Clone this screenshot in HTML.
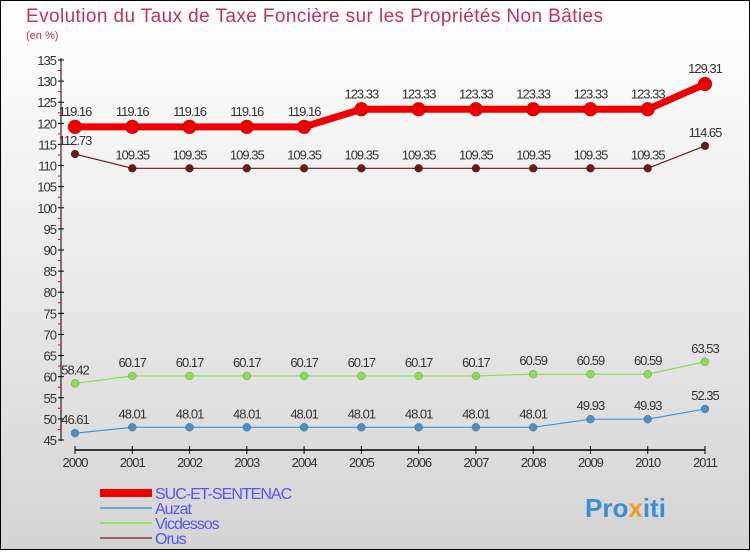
<!DOCTYPE html>
<html><head><meta charset="utf-8"><style>
body{margin:0}
#c{width:750px;height:550px;position:relative;font-family:"Liberation Sans",sans-serif;}
</style></head><body>
<div id="c">
<svg id="s" width="750" height="550" xmlns="http://www.w3.org/2000/svg">
<defs><linearGradient id="bg" x1="0" y1="0" x2="0" y2="1"><stop offset="0" stop-color="#ffffff"/><stop offset="1" stop-color="#d4d4d4"/></linearGradient></defs>
<rect x="0.5" y="0.5" width="749" height="549" fill="url(#bg)" stroke="#000"/>
<text x="26" y="22" font-size="19" fill="#c0306a" textLength="577">Evolution du Taux de Taxe Foncière sur les Propriétés Non Bâties</text>
<text x="26" y="39" font-size="11" fill="#c0306a">(en %)</text>
<g id="g"></g>
<text x="585" y="517" font-size="26" font-weight="bold" fill="#3a8fd0">Pro<tspan fill="#f0a020">x</tspan>iti</text>
</svg>
</div>
<script>
const years=["2000","2001","2002","2003","2004","2005","2006","2007","2008","2009","2010","2011"];
const suc=[119.16,119.16,119.16,119.16,119.16,123.33,123.33,123.33,123.33,123.33,123.33,129.31];
const auzat=[46.61,48.01,48.01,48.01,48.01,48.01,48.01,48.01,48.01,49.93,49.93,52.35];
const vicdessos=[58.42,60.17,60.17,60.17,60.17,60.17,60.17,60.17,60.59,60.59,60.59,63.53];
const orus=[112.73,109.35,109.35,109.35,109.35,109.35,109.35,109.35,109.35,109.35,109.35,114.65];
const yTicks=[45,50,55,60,65,70,75,80,85,90,95,100,105,110,115,120,125,130,135];
const names=["SUC-ET-SENTENAC","Auzat","Vicdessos","Orus"];
const NS="http://www.w3.org/2000/svg";
const g=document.getElementById('g');
const X=i=>75+i*(630/11);
const Y=v=>440-(v-45)*(380/90);
function el(t,a,p){const e=document.createElementNS(NS,t);for(const k in a)e.setAttribute(k,a[k]);(p||g).appendChild(e);return e;}
let e=el('line',{x1:61,y1:58,x2:61,y2:441,stroke:'#000'});

e=el('line',{x1:75,y1:450,x2:705,y2:450,stroke:'#000','stroke-width':1.5});

yTicks.forEach((v,i)=>{
 const y=Y(v);
 el('line',{x1:58,y1:y,x2:64,y2:y,stroke:'#000'});
 if(i<yTicks.length-1){el('line',{x1:58,y1:Y(v+2.5),x2:61,y2:Y(v+2.5),stroke:'#e00'});}
 const t=el('text',{x:56,y:y+5,'font-size':13,'text-anchor':'end',fill:'#333','letter-spacing':'-1'});t.textContent=v;
 
});
years.forEach((yr,i)=>{
 el('line',{x1:X(i),y1:446,x2:X(i),y2:454,stroke:'#000'});
 const t=el('text',{x:X(i),y:467,'font-size':13,'text-anchor':'middle',fill:'#333','letter-spacing':'-1'});t.textContent=yr;
 
});
const series=[[orus,'#6b1a1a',1.2,4,'orus'],[vicdessos,'#88dd55',1.2,4,'vicdessos'],[auzat,'#4a90c8',1.2,4,'auzat'],[suc,'#ee0000',7,7,'suc-et-sentenac']];
series.forEach(([d,c,w,r,n])=>{
 const p=el('polyline',{points:d.map((v,i)=>X(i)+','+Y(v)).join(' '),fill:'none',stroke:c,'stroke-width':w});
 
 d.forEach((v,i)=>{
  const m=el('circle',{cx:X(i),cy:Y(v),r:r,fill:c,stroke:'rgba(0,0,0,0.3)','stroke-width':0.5});
  
  const t=el('text',{x:X(i),y:Y(v)-(n==='suc-et-sentenac'?11:9),'font-size':13,'text-anchor':'middle',fill:'#333','letter-spacing':'-1'});t.textContent=v.toFixed(2).replace(/0$/,'').replace(/\.$/,'');
  
 });
});
const lc=['#ee0000','#6fa8d0','#99dd66','#996666'],lw=[8,2,2,2];
names.forEach((nm,i)=>{
 const y=493+i*15;
 const l=el('line',{x1:100,y1:y,x2:152,y2:y,stroke:lc[i],'stroke-width':lw[i]});
 
 const t=el('text',{x:155,y:y+6,'font-size':16,fill:'#5555ee','letter-spacing':'-1'});t.textContent=nm;
 
});
</script>
</body></html>
